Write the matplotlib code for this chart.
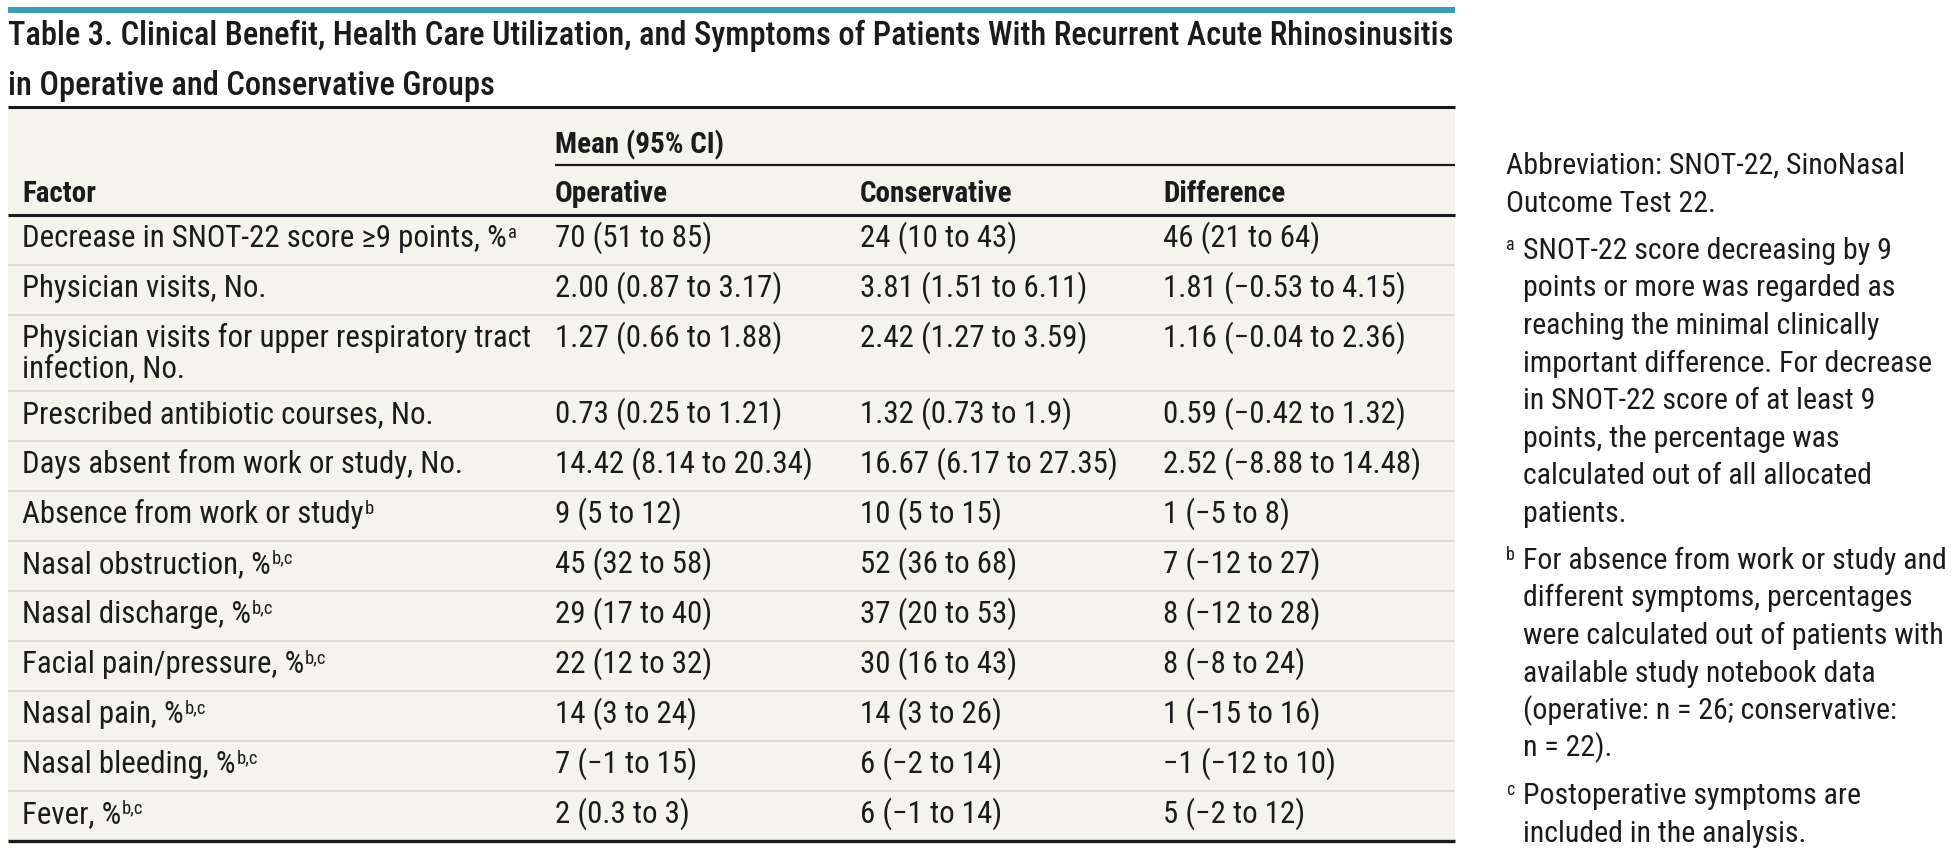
import matplotlib
matplotlib.use("Agg")
import matplotlib.pyplot as plt
from matplotlib import font_manager
from matplotlib.patches import Rectangle

# ---------------- data ----------------
title_lines = [
    "Table 3. Clinical Benefit, Health Care Utilization, and Symptoms of Patients With Recurrent Acute Rhinosinusitis",
    "in Operative and Conservative Groups",
]
group_header = "Mean (95% CI)"
col_headers = ["Factor", "Operative", "Conservative", "Difference"]

factors = [
    "Decrease in SNOT-22 score \u22659 points, %",
    "Physician visits, No.",
    "Physician visits for upper respiratory tract\ninfection, No.",
    "Prescribed antibiotic courses, No.",
    "Days absent from work or study, No.",
    "Absence from work or study",
    "Nasal obstruction, %",
    "Nasal discharge, %",
    "Facial pain/pressure, %",
    "Nasal pain, %",
    "Nasal bleeding, %",
    "Fever, %",
]
factor_marks = ["a", "", "", "", "", "b", "b,c", "b,c", "b,c", "b,c", "b,c", "b,c"]

operative = [
    "70 (51 to 85)", "2.00 (0.87 to 3.17)", "1.27 (0.66 to 1.88)", "0.73 (0.25 to 1.21)",
    "14.42 (8.14 to 20.34)", "9 (5 to 12)", "45 (32 to 58)", "29 (17 to 40)",
    "22 (12 to 32)", "14 (3 to 24)", "7 (\u22121 to 15)", "2 (0.3 to 3)",
]
conservative = [
    "24 (10 to 43)", "3.81 (1.51 to 6.11)", "2.42 (1.27 to 3.59)", "1.32 (0.73 to 1.9)",
    "16.67 (6.17 to 27.35)", "10 (5 to 15)", "52 (36 to 68)", "37 (20 to 53)",
    "30 (16 to 43)", "14 (3 to 26)", "6 (\u22122 to 14)", "6 (\u22121 to 14)",
]
difference = [
    "46 (21 to 64)", "1.81 (\u22120.53 to 4.15)", "1.16 (\u22120.04 to 2.36)", "0.59 (\u22120.42 to 1.32)",
    "2.52 (\u22128.88 to 14.48)", "1 (\u22125 to 8)", "7 (\u221212 to 27)", "8 (\u221212 to 28)",
    "8 (\u22128 to 24)", "1 (\u221215 to 16)", "\u22121 (\u221212 to 10)", "5 (\u22122 to 12)",
]

notes = [
    ("", ["Abbreviation: SNOT-22, SinoNasal", "Outcome Test 22."]),
    ("a", ["SNOT-22 score decreasing by 9", "points or more was regarded as",
           "reaching the minimal clinically", "important difference. For decrease",
           "in SNOT-22 score of at least 9", "points, the percentage was",
           "calculated out of all allocated", "patients."]),
    ("b", ["For absence from work or study and", "different symptoms, percentages",
           "were calculated out of patients with", "available study notebook data",
           "(operative: n = 26; conservative:", "n = 22)."]),
    ("c", ["Postoperative symptoms are", "included in the analysis."]),
]

# ---------------- style ----------------
names = {f.name for f in font_manager.fontManager.ttflist}
for cand in ["Liberation Sans Narrow", "Roboto Condensed", "Open Sans Condensed", "Liberation Sans"]:
    if cand in names:
        font = cand
        break
else:
    font = "DejaVu Sans"
fam = [font, "DejaVu Sans"]

ink = "#1b1b1b"
bg = "#f4f3ec"
sep_color = "#d9d5ca"
blue = "#3d9cb6"

W, H = 1955, 850
fig = plt.figure(figsize=(W / 100, H / 100), dpi=100)
ax = fig.add_axes([0, 0, 1, 1])
ax.set_xlim(0, W)
ax.set_ylim(H, 0)
ax.axis("off")
renderer = fig.canvas.get_renderer()


def width_px(s, size, weight="normal"):
    t = ax.text(0, 0, s, fontsize=size, family=fam, fontweight=weight)
    w = t.get_window_extent(renderer).width
    t.remove()
    return w


def fit(s, target, weight="normal"):
    return 20 * target / width_px(s, 20, weight)


fs_body = 0.5 * (fit("Physician visits for upper respiratory tract", 494)
                 + fit("14.42 (8.14 to 20.34)", 264))
fs_head = fit("Conservative", 152, "semibold")
fs_title = fit(title_lines[0], 1447, "medium")
fs_note = fit("For absence from work or study and", 422)


def put(x, y, s, size, mark="", weight="normal", rise=9):
    t = ax.text(x, y, s, fontsize=size, family=fam, fontweight=weight,
                color=ink, va="baseline", ha="left")
    if mark:
        bb = t.get_window_extent(renderer)
        x1 = ax.transData.inverted().transform((bb.x1, bb.y0))[0]
        ax.text(x1 + 1, y - rise, mark, fontsize=size * 0.6, family=fam,
                color=ink, va="baseline", ha="left")
    return t


left, right = 8, 1455
col_x = [22, 555, 860, 1163]

# blue bar + title
ax.add_patch(Rectangle((left, 7), right - left, 6, color=blue, lw=0))
put(left, 45, title_lines[0], fs_title, weight="medium")
put(left, 95, title_lines[1], fs_title, weight="medium")

# table background and header
top, header_rule = 107, 215
row_h, extra_line = 50, 26
heights = [row_h + extra_line * f.count("\n") for f in factors]
bottom = header_rule + sum(heights)
ax.add_patch(Rectangle((left, top), right - left, bottom - top, color=bg, lw=0, zorder=0))

ax.plot([left, right], [top, top], color=ink, lw=2.2, solid_capstyle="butt")
put(col_x[1], 153, group_header, fs_head, weight="semibold")
ax.plot([col_x[1], right], [164.5, 164.5], color=ink, lw=1.6, solid_capstyle="butt")
for x, h in zip(col_x, col_headers):
    put(x, 202, h, fs_head, weight="semibold")
ax.plot([left, right], [header_rule, header_rule], color=ink, lw=2.2, solid_capstyle="butt")

# rows
y0 = header_rule
for i, (f, m, o, c, d) in enumerate(zip(factors, factor_marks, operative, conservative, difference)):
    base = y0 + 31.7
    lines = f.split("\n")
    for k, ln in enumerate(lines):
        put(col_x[0], base + 30.5 * k, ln, fs_body, mark=m if k == len(lines) - 1 else "")
    put(col_x[1], base, o, fs_body)
    put(col_x[2], base, c, fs_body)
    put(col_x[3], base, d, fs_body)
    y0 += heights[i]
    if i < len(factors) - 1:
        ax.plot([left, right], [y0, y0], color=sep_color, lw=1.1, solid_capstyle="butt")
ax.plot([left, right], [bottom, bottom], color=ink, lw=2.4, solid_capstyle="butt")

# footnotes on the right
nx, indent = 1506, 1523
y = 174
for mark, lines in notes:
    tx = indent if mark else nx
    if mark:
        ax.text(nx, y - 9, mark, fontsize=fs_note * 0.6, family=fam, color=ink, va="baseline")
    for ln in lines:
        put(tx, y, ln, fs_note)
        y += 37.5
    y += 10

fig.savefig("out.png", dpi=100, facecolor="white")
